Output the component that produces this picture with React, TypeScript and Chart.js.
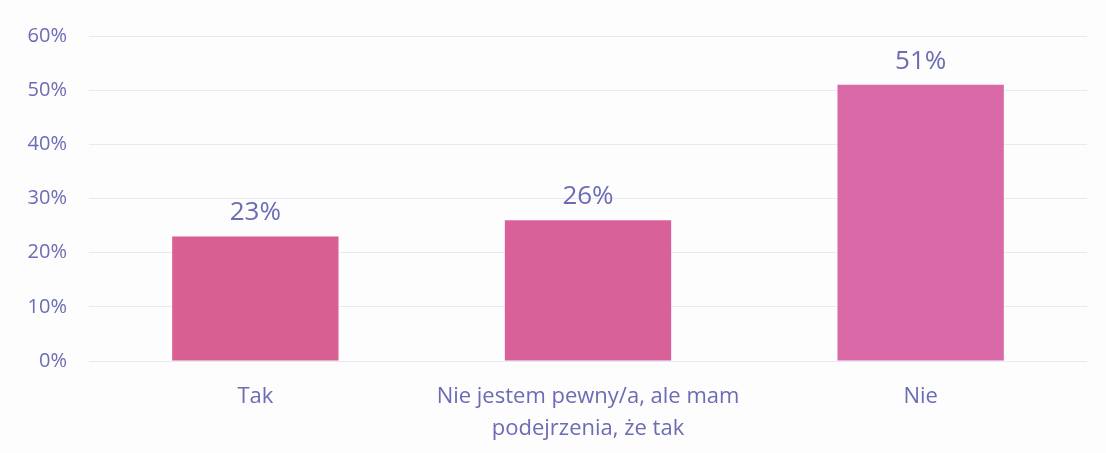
import React, { useEffect, useRef } from "react";
import { Chart, registerables } from "chart.js";

Chart.register(...registerables);

const categories: (string | string[])[] = [
  "Tak",
  ["Nie jestem pewny/a, ale mam", "podejrzenia, że tak"],
  "Nie",
];
const values = [23, 26, 51];
const yTicks = [0, 10, 20, 30, 40, 50, 60];
const barColors = ["#d75f91", "#d96199", "#d868a6"];

const TEXT = "#6b6cb4";
const FONT = "'Open Sans', Lato, sans-serif";

const labelPlugin = {
  id: "valueLabels",
  afterDatasetsDraw(chart: any) {
    const { ctx } = chart;
    const meta = chart.getDatasetMeta(0);
    ctx.save();
    ctx.fillStyle = TEXT;
    ctx.font = `26px ${FONT}`;
    ctx.textAlign = "center";
    ctx.textBaseline = "alphabetic";
    meta.data.forEach((bar: any, i: number) => {
      ctx.fillText(values[i] + "%", bar.x, bar.y - 16);
    });
    ctx.restore();
  },
};

export default function App() {
  const ref = useRef<HTMLCanvasElement>(null);
  useEffect(() => {
    document.body.style.margin = "0";
    document.body.style.background = "#fdfdfe";
    const chart = new Chart(ref.current!, {
      type: "bar",
      data: {
        labels: categories,
        datasets: [
          {
            data: values,
            backgroundColor: barColors,
            categoryPercentage: 1,
            barPercentage: 0.5,
          },
        ],
      },
      options: {
        responsive: false,
        animation: false,
        layout: { padding: { top: 36, right: 19, left: 0, bottom: 0 } },
        plugins: { legend: { display: false }, tooltip: { enabled: false } },
        scales: {
          x: {
            grid: { display: false, drawTicks: false },
            border: { display: false },
            ticks: {
              color: TEXT,
              font: { family: FONT, size: 22, lineHeight: 1.45 },
              padding: 20,
              maxRotation: 0,
              autoSkip: false,
            },
            afterFit: (s: any) => {
              s.height = 92;
            },
          },
          y: {
            min: 0,
            max: 60,
            afterBuildTicks: (s: any) => {
              s.ticks = yTicks.map((v) => ({ value: v }));
            },
            grid: { color: "#e6eaf4", drawTicks: false, lineWidth: 1 },
            border: { display: false },
            ticks: {
              color: TEXT,
              font: { family: FONT, size: 20 },
              padding: 22,
              callback: (v: any) => v + "%",
            },
            afterFit: (s: any) => {
              s.width = 89;
            },
          },
        },
      },
      plugins: [labelPlugin],
    });
    return () => chart.destroy();
  }, []);
  return <canvas ref={ref} width={1106} height={453} style={{ display: "block" }} />;
}
